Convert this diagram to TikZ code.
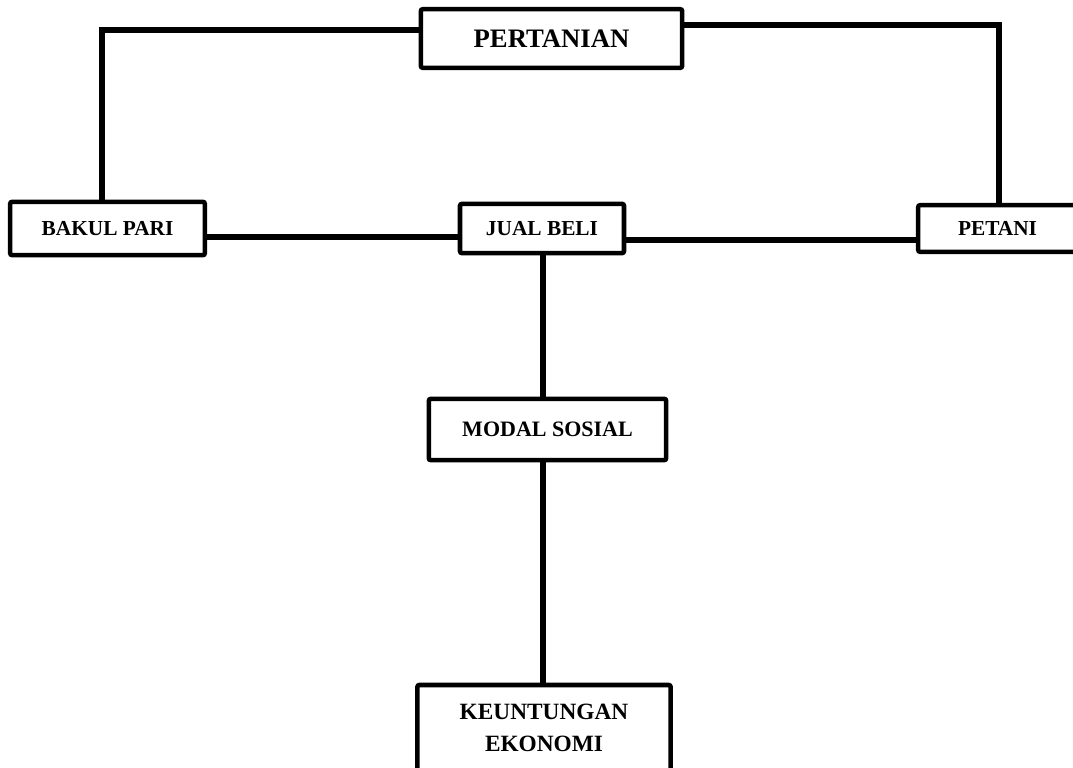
\documentclass[tikz,border=0pt]{standalone}
\usepackage{fontspec}
\setmainfont{Liberation Serif}
\begin{document}
\begin{tikzpicture}[x=0.75pt,y=-0.75pt,
	box/.style={draw,line width=3.4pt,rounded corners=1.5pt,inner sep=0,
	align=center,font=\bfseries\fontsize{16}{19}\selectfont},
	link/.style={line width=3.8pt}]
\useasboundingbox (0,0) rectangle (1073,767);
\clip (0,0) rectangle (1073,767);
\node[box,minimum width=196pt,minimum height=44pt,font=\bfseries\fontsize{20}{23}\selectfont]
	(pertanian) at (551.5,38.5) {PERTANIAN};
\node[box,minimum width=146pt,minimum height=40pt] (bakul) at (107.5,228.5) {BAKUL PARI};
\node[box,minimum width=123pt,minimum height=37pt] (jual) at (542,228.5) {JUAL BELI};
\node[box,minimum width=119pt,minimum height=35pt] (petani) at (997.5,228.5) {PETANI};
\node[box,minimum width=178pt,minimum height=46pt,font=\bfseries\fontsize{16.5}{19}\selectfont]
	(modal) at (547.5,429.5) {MODAL SOSIAL};
\node[box,minimum width=190pt,minimum height=64.5pt,font=\bfseries\fontsize{17.5}{24}\selectfont]
	(untung) at (544,728) {KEUNTUNGAN\\EKONOMI};
% connectors
\coordinate (kiri) at (102,30);
\coordinate (kanan) at (999,25);
\draw[link] (pertanian.west |- kiri) -- (kiri) -- (kiri |- bakul.north);
\draw[link] (pertanian.east |- kanan) -- (kanan) -- (kanan |- petani.north);
\draw[link] (bakul.east |- 0,237) -- (jual.west |- 0,237);
\draw[link] (jual.east |- 0,240) -- (petani.west |- 0,240);
\draw[link] (jual.south -| 543,0) -- (modal.north -| 543,0);
\draw[link] (modal.south -| 543,0) -- (untung.north -| 543,0);
\end{tikzpicture}
\end{document}
